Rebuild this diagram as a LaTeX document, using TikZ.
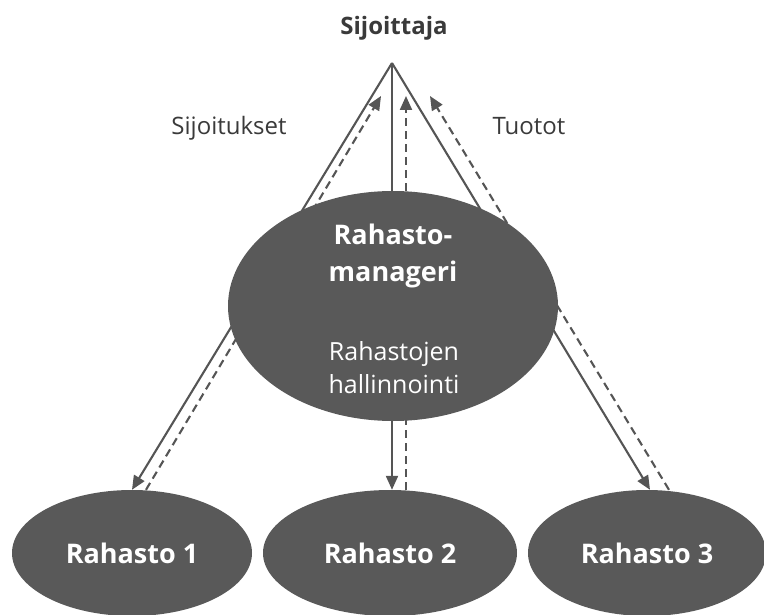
\documentclass[tikz,border=0pt]{standalone}
\usepackage{fontspec}
\setmainfont{Open Sans}
\usetikzlibrary{shapes.geometric,arrows.meta}
\pgfdeclarelayer{bg}
\pgfsetlayers{bg,main}
\definecolor{ellgray}{HTML}{595959}
\definecolor{linegray}{HTML}{555555}
\definecolor{txtgray}{HTML}{3A3A3A}
\tikzset{
  blob/.style={ellipse, fill=ellgray, draw=none, inner sep=0pt},
  solidarrow/.style={draw=linegray, line width=2.1pt, -{Triangle[length=14pt,width=12pt]}},
  dasharrow/.style={draw=linegray, line width=2.1pt, dash pattern=on 8pt off 5pt, -{Triangle[length=14pt,width=12pt]}},
  toplabel/.style={anchor=base, text=txtgray, font=\fontsize{24}{28}\selectfont, inner sep=0pt},
  whitebold/.style={anchor=base, text=white, font=\bfseries\fontsize{27}{32}\selectfont, inner sep=0pt},
  whitereg/.style={anchor=base, text=white, font=\fontsize{25}{30}\selectfont, inner sep=0pt}
}
\begin{document}
\begin{tikzpicture}[x=1pt,y=-1pt]
\useasboundingbox (0,0) rectangle (764,615);
% nodes
\node[toplabel, font=\bfseries\fontsize{24}{28}\selectfont] (inv) at (394,35) {Sijoittaja};
\coordinate (apex) at (392,63);
\node[toplabel] (sij) at (229,135) {Sijoitukset};
\node[toplabel] (tuo) at (529,135) {Tuotot};
\node[blob, minimum width=330pt, minimum height=230pt] (mgr) at (393,306) {};
\node[whitebold] (m1) at (393,245) {Rahasto-};
\node[whitebold] (m2) at (393,281) {manageri};
\node[whitereg] (m3) at (394,360) {Rahastojen};
\node[whitereg] (m4) at (394,393) {hallinnointi};
\node[blob, minimum width=240pt, minimum height=126pt] (r1) at (132,553) {};
\node[blob, minimum width=254pt, minimum height=126pt] (r2) at (390,553) {};
\node[blob, minimum width=238pt, minimum height=126pt] (r3) at (647,553) {};
\node[whitebold] (t1) at (r1.center) [yshift=-10pt] {Rahasto 1};
\node[whitebold] (t2) at (r2.center) [yshift=-10pt] {Rahasto 2};
\node[whitebold] (t3) at (r3.center) [yshift=-10pt] {Rahasto 3};
\coordinate (e1) at (381,96);
\coordinate (e2) at (406,96);
\coordinate (e3) at (430,96);
% connectors behind the ellipses
\begin{pgfonlayer}{bg}
\draw[solidarrow] (apex) -- (r1.north);
\draw[solidarrow] (apex) -- ([xshift=2pt]r2.north);
\draw[solidarrow] (apex) -- ([xshift=3pt]r3.north);
\draw[dasharrow] ([xshift=14pt]r1.north) -- (e1);
\draw[dasharrow] ([xshift=16pt]r2.north) -- (e2);
\draw[dasharrow] ([xshift=22pt]r3.north) -- (e3);
\end{pgfonlayer}
\end{tikzpicture}
\end{document}
